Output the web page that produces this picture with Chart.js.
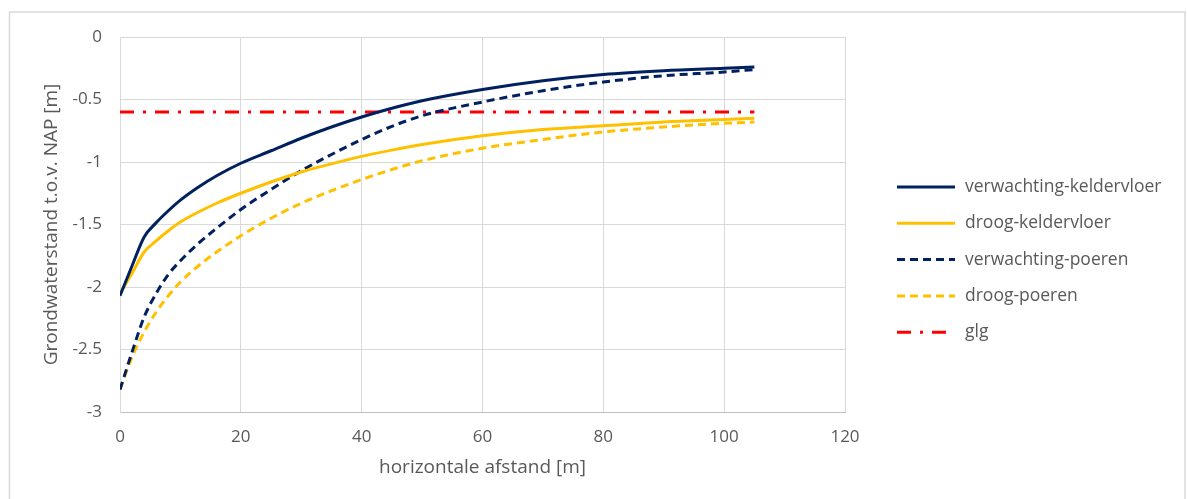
<!DOCTYPE html>
<html>
<head>
<meta charset="utf-8">
<script src="https://cdn.jsdelivr.net/npm/chart.js@4.4.0/dist/chart.umd.min.js"></script>
<style>
    body { margin: 0; background: #ffffff; }
    #wrap { position: relative; width: 1187px; height: 499px; }
</style>
</head>
<body>
<div id="wrap"><canvas id="chart" width="1187" height="499"></canvas></div>
<script>
// afstand tot de kelder [m]
const afstand = [0, 2, 4, 6, 8, 10, 13, 16, 20, 25, 30, 35, 40, 45, 50, 60, 70, 80, 90, 100, 105];

// grondwaterstand t.o.v. NAP [m]
const verwachtingKeldervloer = [-2.07, -1.83, -1.60, -1.485, -1.39, -1.305, -1.20, -1.11, -1.01, -0.91, -0.81, -0.72, -0.64, -0.57, -0.51, -0.42, -0.35, -0.30, -0.27, -0.25, -0.24];
const droogKeldervloer = [-2.05, -1.89, -1.72, -1.63, -1.55, -1.48, -1.40, -1.33, -1.25, -1.16, -1.08, -1.015, -0.955, -0.905, -0.86, -0.79, -0.74, -0.71, -0.68, -0.66, -0.65];
const verwachtingPoeren = [-2.82, -2.52, -2.24, -2.05, -1.90, -1.79, -1.65, -1.53, -1.38, -1.22, -1.07, -0.94, -0.82, -0.715, -0.63, -0.52, -0.43, -0.36, -0.31, -0.28, -0.26];
const droogPoeren = [-2.82, -2.56, -2.36, -2.20, -2.07, -1.96, -1.83, -1.72, -1.59, -1.45, -1.33, -1.23, -1.14, -1.06, -0.99, -0.89, -0.82, -0.76, -0.72, -0.69, -0.68];

// gemiddeld laagste grondwaterstand
const glgX = [0, 105];
const glgY = [-0.6, -0.6];

const xTicks = [0, 20, 40, 60, 80, 100, 120];
const yTicks = [0, -0.5, -1, -1.5, -2, -2.5, -3];

const FONT = "'Open Sans', Lato, sans-serif";
const GREY = "#595959";

function pts(xs, ys) {
    return xs.map((x, i) => ({ x: x, y: ys[i] }));
}

function serie(label, ys, color, dash) {
    return {
        label: label,
        data: pts(afstand, ys),
        borderColor: color,
        backgroundColor: color,
        borderWidth: 3,
        borderDash: dash,
        pointRadius: 0,
        cubicInterpolationMode: "monotone",
        fill: false
    };
}

// eigen legenda rechts naast de grafiek + kader om het geheel
const sideLegend = {
    id: "sideLegend",
    beforeDraw(chart) {
        const ctx = chart.ctx;
        ctx.save();
        ctx.strokeStyle = "#d9d9d9";
        ctx.lineWidth = 1.5;
        ctx.strokeRect(9.5, 12, 1175.5, 520);
        ctx.restore();
    },
    afterDraw(chart) {
        const ctx = chart.ctx;
        const x0 = 897, x1 = 955, top = 187, step = 36.3;
        ctx.save();
        ctx.font = "17.5px " + FONT;
        ctx.textBaseline = "middle";
        chart.data.datasets.forEach((ds, i) => {
            const y = top + i * step;
            ctx.beginPath();
            ctx.strokeStyle = ds.borderColor;
            ctx.lineWidth = 3;
            ctx.setLineDash(ds.borderDash || []);
            ctx.moveTo(x0, y);
            ctx.lineTo(x1, y);
            ctx.stroke();
            ctx.setLineDash([]);
            ctx.fillStyle = GREY;
            ctx.fillText(ds.label, 965, y);
        });
        ctx.restore();
    }
};

new Chart(document.getElementById("chart"), {
    type: "line",
    data: {
        datasets: [
            serie("verwachting-keldervloer", verwachtingKeldervloer, "#002060", []),
            serie("droog-keldervloer", droogKeldervloer, "#FFC000", []),
            serie("verwachting-poeren", verwachtingPoeren, "#002060", [8, 5]),
            serie("droog-poeren", droogPoeren, "#FFC000", [8, 5]),
            {
                label: "glg",
                data: pts(glgX, glgY),
                borderColor: "#FF0000",
                backgroundColor: "#FF0000",
                borderWidth: 3,
                borderDash: [14, 9, 3, 9],
                pointRadius: 0,
                fill: false
            }
        ]
    },
    options: {
        responsive: false,
        animation: false,
        layout: { padding: { left: 0, right: 342, top: 37, bottom: 0 } },
        plugins: {
            legend: { display: false },
            tooltip: { enabled: false }
        },
        scales: {
            x: {
                type: "linear",
                min: 0,
                max: 120,
                afterBuildTicks(scale) {
                    scale.ticks = xTicks.map(v => ({ value: v }));
                },
                afterFit(scale) { scale.height = 87; },
                grid: { color: "#d9d9d9", lineWidth: 1, drawTicks: false },
                border: { color: "#bfbfbf", width: 1 },
                ticks: { color: GREY, font: { family: FONT, size: 17 }, padding: 15 },
                title: {
                    display: true,
                    text: "horizontale afstand [m]",
                    color: GREY,
                    font: { family: FONT, size: 19 },
                    padding: { top: 0, bottom: 20 }
                }
            },
            y: {
                type: "linear",
                min: -3,
                max: 0,
                afterBuildTicks(scale) {
                    scale.ticks = yTicks.map(v => ({ value: v }));
                },
                afterFit(scale) { scale.width = 120; },
                grid: { color: "#d9d9d9", lineWidth: 1, drawTicks: false },
                border: { color: "#d9d9d9", width: 1 },
                ticks: {
                    color: GREY,
                    font: { family: FONT, size: 17 },
                    padding: 18,
                    callback: v => String(v)
                },
                title: {
                    display: true,
                    text: "Grondwaterstand t.o.v. NAP [m]",
                    color: GREY,
                    font: { family: FONT, size: 19 },
                    padding: { top: 40, bottom: 0 }
                }
            }
        }
    },
    plugins: [sideLegend]
});
</script>
</body>
</html>
